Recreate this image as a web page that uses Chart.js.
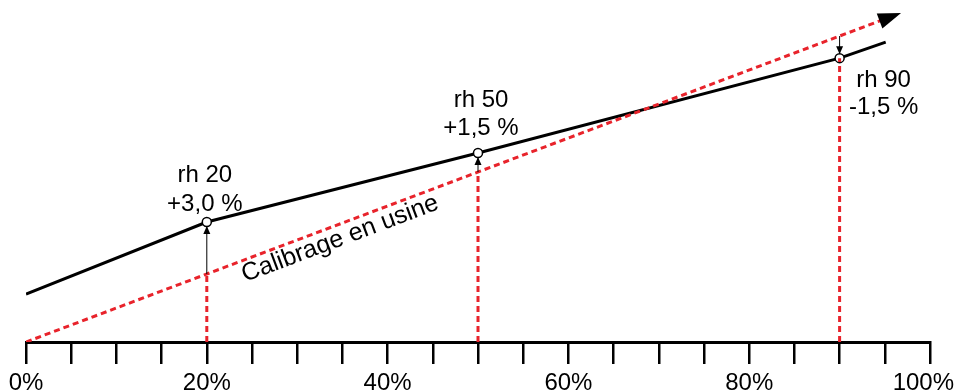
<!DOCTYPE html>
<html>
<head>
<meta charset="utf-8">
<script src="https://cdn.jsdelivr.net/npm/chart.js@4/dist/chart.umd.min.js"></script>
<style>
  html, body { margin: 0; padding: 0; background: #fff; }
  #wrap { width: 957px; height: 392px; position: relative; }
</style>
</head>
<body>
<div id="wrap"><canvas id="chart"></canvas></div>
<script>
// x axis: relative humidity in %, tick every 5 with a label every 20
const tickValues = [0, 5, 10, 15, 20, 25, 30, 35, 40, 45, 50, 55, 60, 65, 70, 75, 80, 85, 90, 95, 100];
const tickLabels = ['0%', '', '', '', '20%', '', '', '', '40%', '', '', '', '60%', '', '', '', '80%', '', '', '', '100%'];

// factory calibration (red dotted line with arrow) and the adjusted curve (black)
const factoryX = [0, 95];
const factoryY = [0, 95];
const factoryTip = [96.8, 96.8];
const measuredX = [0, 20, 50, 90, 95.1];
const measuredY = [14.1, 35.3, 55.6, 83.5, 88.2];

// adjustment points
const checkX = [20, 50, 90];
const checkFactory = [20, 50, 90];
const checkMeasured = [35.3, 55.6, 83.5];
const checkNames = ['rh 20', 'rh 50', 'rh 90'];
const checkDeviation = ['+3,0 %', '+1,5 %', '-1,5 %'];
const factoryLabel = 'Calibrage en usine';
const factoryLabelAt = 34.2;

const RED = '#e8232b';
const FONT = '"Liberation Sans", Arial, sans-serif';

// label placement around each adjustment point, in pixels (dx, first line dy, second line dy)
const labelOffsets = [[-2, -40, -11], [3, -46, -18], [44, 29, 56]];

const pts = (xs, ys) => xs.map((x, i) => ({ x: x, y: ys[i] }));

function drawHead(ctx, x1, y1, x2, y2, len, half) {
    const a = Math.atan2(y2 - y1, x2 - x1);
    ctx.beginPath();
    ctx.moveTo(x2, y2);
    ctx.lineTo(x2 - len * Math.cos(a) + half * Math.sin(a), y2 - len * Math.sin(a) - half * Math.cos(a));
    ctx.lineTo(x2 - len * Math.cos(a) - half * Math.sin(a), y2 - len * Math.sin(a) + half * Math.cos(a));
    ctx.closePath();
    ctx.fill();
}

const annotations = {
    id: 'annotations',
    afterDatasetsDraw(chart) {
        const ctx = chart.ctx;
        const xs = chart.scales.x, ys = chart.scales.y;
        ctx.save();
        ctx.fillStyle = '#000';
        ctx.strokeStyle = '#000';

        // big arrow head at the end of the factory line
        const bx = xs.getPixelForValue(factoryX[1]), by = ys.getPixelForValue(factoryY[1]);
        const tx = xs.getPixelForValue(factoryTip[0]), ty = ys.getPixelForValue(factoryTip[1]);
        drawHead(ctx, bx, by, tx, ty, 23, 8);

        // thin arrows from factory value to adjusted value
        ctx.lineWidth = 1;
        checkX.forEach((x, i) => {
            const px = xs.getPixelForValue(x);
            const y1 = ys.getPixelForValue(checkFactory[i]);
            let y2 = ys.getPixelForValue(checkMeasured[i]);
            y2 += (y2 < y1) ? 4 : -4;
            ctx.beginPath();
            ctx.moveTo(px, y1);
            ctx.lineTo(px, y2);
            ctx.stroke();
            drawHead(ctx, px, y1, px, y2, 8, 3.5);
        });

        // point labels
        ctx.font = '24px ' + FONT;
        ctx.textAlign = 'center';
        ctx.textBaseline = 'alphabetic';
        checkX.forEach((x, i) => {
            const px = xs.getPixelForValue(x) + labelOffsets[i][0];
            const py = ys.getPixelForValue(checkMeasured[i]);
            ctx.fillText(checkNames[i], px, py + labelOffsets[i][1]);
            ctx.fillText(checkDeviation[i], px, py + labelOffsets[i][2]);
        });

        // label along the factory line
        const x0 = xs.getPixelForValue(factoryX[0]), y0 = ys.getPixelForValue(factoryY[0]);
        const ang = Math.atan2(ty - y0, tx - x0);
        const lx = xs.getPixelForValue(factoryLabelAt);
        const ly = y0 + (lx - x0) * Math.tan(ang);
        ctx.font = '25px ' + FONT;
        ctx.translate(lx, ly);
        ctx.rotate(ang);
        ctx.fillText(factoryLabel, 0, 21);
        ctx.restore();
    }
};

const verticals = checkX.map((x, i) => ({
    data: [{ x: x, y: 0 }, { x: x, y: Math.min(checkFactory[i], checkMeasured[i]) }],
    borderColor: RED,
    borderWidth: 3,
    borderDash: [6, 4],
    pointRadius: 0,
    order: 1
}));

new Chart(document.getElementById('chart'), {
    type: 'line',
    data: {
        datasets: [
            {
                data: pts(factoryX, factoryY),
                borderColor: RED,
                borderWidth: 3,
                borderDash: [6, 4],
                pointRadius: 0,
                order: 2
            },
            ...verticals,
            {
                data: pts(measuredX, measuredY),
                borderColor: '#000',
                borderWidth: 3,
                pointRadius: measuredX.map(x => checkX.includes(x) ? 4.5 : 0),
                pointBorderWidth: 1.5,
                pointBorderColor: '#000',
                pointBackgroundColor: '#fff',
                order: 3
            }
        ]
    },
    options: {
        responsive: true,
        maintainAspectRatio: false,
        animation: false,
        events: [],
        layout: { padding: { left: 26, right: 27, top: 0, bottom: 0 } },
        plugins: { legend: { display: false }, tooltip: { enabled: false } },
        elements: { line: { tension: 0 } },
        scales: {
            x: {
                type: 'linear',
                min: 0,
                max: 100,
                afterBuildTicks: (scale) => { scale.ticks = tickValues.map(v => ({ value: v })); },
                afterFit: (scale) => { scale.height = 50; scale.paddingRight = 0; scale.paddingLeft = 0; },
                ticks: {
                    autoSkip: false,
                    maxRotation: 0,
                    padding: 5,
                    color: '#000',
                    font: { family: FONT, size: 24 },
                    callback: (v, i) => tickLabels[i] === '100%' ? '100%  ' : tickLabels[i]
                },
                grid: { drawOnChartArea: false, drawTicks: true, tickLength: 22, color: '#000', lineWidth: 2.5 },
                border: { display: true, color: '#000', width: 3 }
            },
            y: {
                display: false,
                min: 0,
                max: 100.6
            }
        }
    },
    plugins: [annotations]
});
</script>
</body>
</html>
